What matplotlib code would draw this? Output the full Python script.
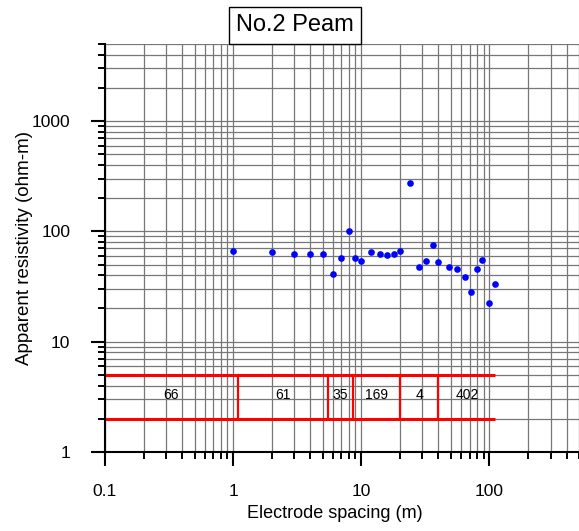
import matplotlib
matplotlib.use("Agg")
import matplotlib.pyplot as plt
import numpy as np
from matplotlib.ticker import LogLocator, NullFormatter, FixedLocator, FixedFormatter

plt.rcParams['font.family'] = ['Liberation Sans', 'DejaVu Sans']

# measured sounding data
spacing = [1, 2, 3, 4, 5, 6, 7, 8, 9, 10, 12, 14, 16, 18, 20, 24, 28, 32, 36, 40,
           48, 56, 64, 72, 80, 88, 100, 110]
resistivity = [66, 65.5, 63, 62, 62.5, 41, 57.5, 101, 57, 54, 64.5, 63, 60.5, 63, 67,
               273, 48, 54, 75, 52.5, 48, 46, 38.5, 28, 46, 55, 22.3, 33.5]

# layered model (resistivity of each layer, boundaries in m)
layer_res = [66, 61, 35, 169, 4, 402]
layer_bounds = [0.1, 1.09, 5.5, 8.6, 20, 40, 111]
band_low, band_high = 2, 5

fig = plt.figure(figsize=(5.79, 5.31), dpi=100)
ax = fig.add_axes([0.1813, 0.1488, 0.8187, 0.7684])
ax.set_xscale('log')
ax.set_yscale('log')
ax.set_xlim(0.1, 500)
ax.set_ylim(1, 5000)

# grid
ax.grid(True, which='both', color='#777777', linewidth=0.9)
ax.set_axisbelow(True)

# layer model band
ax.plot([layer_bounds[0], layer_bounds[-1]], [band_high, band_high], color='red', lw=2.2, solid_capstyle='butt')
ax.plot([layer_bounds[0], layer_bounds[-1]], [band_low, band_low], color='red', lw=2.2, solid_capstyle='butt')
for b in layer_bounds[1:-1]:
    ax.plot([b, b], [band_low, band_high], color='red', lw=1.6)
for i, r in enumerate(layer_res):
    xc = np.sqrt(layer_bounds[i] * layer_bounds[i + 1])
    ax.text(xc, np.sqrt(band_low * band_high) * 1.04, str(r), ha='center', va='center', fontsize=10)

# data points
ax.plot(spacing, resistivity, 'o', color='blue', ms=4.8, mec='none', clip_on=False)

# axes styling
for s in ['top', 'right']:
    ax.spines[s].set_visible(False)
for s in ['left', 'bottom']:
    ax.spines[s].set_linewidth(1.5)
    ax.spines[s].set_color('black')

ax.xaxis.set_major_locator(FixedLocator([0.1, 1, 10, 100]))
ax.xaxis.set_major_formatter(FixedFormatter(['0.1', '1', '10', '100']))
ax.xaxis.set_minor_locator(LogLocator(base=10, subs=np.arange(2, 10), numticks=20))
ax.xaxis.set_minor_formatter(NullFormatter())
ax.yaxis.set_major_locator(FixedLocator([1, 10, 100, 1000]))
ax.yaxis.set_major_formatter(FixedFormatter(['1', '10', '100', '1000']))
ax.yaxis.set_minor_locator(LogLocator(base=10, subs=np.arange(2, 10), numticks=20))
ax.yaxis.set_minor_formatter(NullFormatter())

ax.tick_params(which='major', direction='out', length=10, width=1.5, labelsize=12.5)
ax.tick_params(axis='x', which='major', pad=13)
ax.tick_params(axis='y', which='major', pad=15)
ax.tick_params(which='minor', direction='out', length=5, width=1.4)

ax.set_xlabel('Electrode spacing (m)', fontsize=13)
ax.set_ylabel('Apparent resistivity (ohm-m)', fontsize=13.5)
ax.xaxis.set_label_coords(0.485, -0.13)
ax.yaxis.set_label_coords(-0.152, 0.5)

fig.text(0.5095, 0.952, 'No.2 Peam', ha='center', va='center', fontsize=17,
         bbox=dict(boxstyle='square,pad=0.3', facecolor='white', edgecolor='black', linewidth=1))

fig.savefig('out.png', dpi=100)
